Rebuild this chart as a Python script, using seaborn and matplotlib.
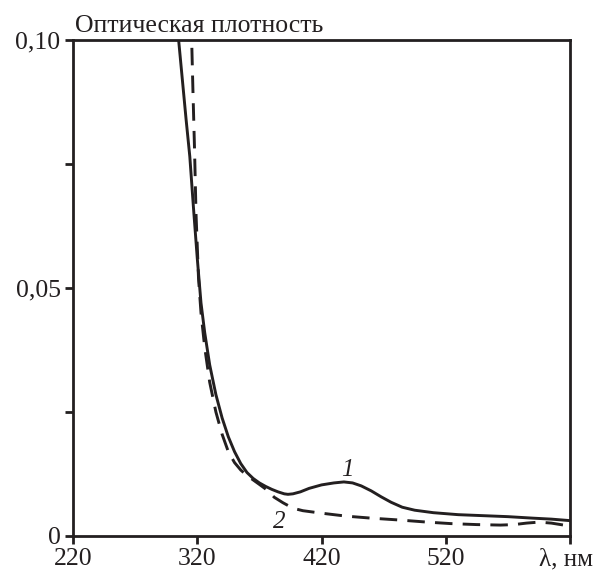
import matplotlib
matplotlib.use("Agg")
import matplotlib.pyplot as plt
from matplotlib.transforms import ScaledTranslation
import seaborn as sns
import pandas as pd

# ---- data ----
wl_1 = [303.5, 305, 308, 311, 314, 317, 320, 323, 326, 330, 335, 340, 345, 350, 355,
        360, 365, 370, 375, 380, 385, 390, 393, 397, 403, 410, 420, 430, 438, 445,
        452, 460, 468, 476, 485, 495, 510, 530, 550, 570, 590, 605, 620]
od_1 = [0.104, 0.100, 0.092, 0.084, 0.0765, 0.066, 0.056, 0.047, 0.041, 0.0345, 0.0285,
        0.0238, 0.0200, 0.0170, 0.0146, 0.0128, 0.0116, 0.0107, 0.0100, 0.0094, 0.0089,
        0.0085, 0.0084, 0.0085, 0.0089, 0.0096, 0.0103, 0.0107, 0.0109, 0.0107,
        0.0101, 0.0091, 0.0079, 0.0068, 0.0058, 0.0052, 0.0047, 0.0043, 0.0041,
        0.0039, 0.0036, 0.0034, 0.0031]

wl_2 = [315.2, 315.5, 316.5, 317.8, 319, 321, 323, 326, 330, 335, 340, 345, 350, 355,
        360, 365, 370, 376, 382, 389, 397, 405, 420, 440, 460, 484, 505, 524, 545,
        564, 575, 585, 595, 605, 620]
od_2 = [0.104, 0.100, 0.090, 0.078, 0.065, 0.052, 0.045, 0.038, 0.031, 0.025, 0.0205,
        0.017, 0.0148, 0.0133, 0.0122, 0.0113, 0.0104, 0.0093, 0.0078, 0.0067, 0.0056,
        0.0051, 0.0046, 0.0040, 0.0036, 0.0032, 0.0028, 0.0025, 0.0023, 0.0022,
        0.0023, 0.0026, 0.0028, 0.0026, 0.0020]

x_ticks = [220, 320, 420, 520, 620]
x_tick_labels = ["220", "320", "420", "520", "λ, нм"]
y_ticks = [0, 0.025, 0.05, 0.075, 0.10]
y_tick_labels = ["0", "", "0,05", "", "0,10"]
title_text = "Оптическая плотность"
curve_labels = ["1", "2"]
curve_label_pos = [(441, 0.0121), (386, 0.0016)]

# ---- style ----
sns.set_theme(style="ticks")
plt.rcParams["font.family"] = ["Liberation Serif", "DejaVu Serif"]
ink = "#231f20"
plt.rcParams.update({
    "axes.edgecolor": ink, "xtick.color": ink, "ytick.color": ink,
    "text.color": ink, "axes.linewidth": 2.0,
    "xtick.major.width": 2.0, "ytick.major.width": 2.0,
    "xtick.major.size": 6, "ytick.major.size": 6,
})

fig = plt.figure(figsize=(5.96, 5.71), dpi=100)
ax = fig.add_axes([0.1225, 0.0613, 0.8339, 0.8687])

df1 = pd.DataFrame({"wl": wl_1, "od": od_1})
df2 = pd.DataFrame({"wl": wl_2, "od": od_2})
sns.lineplot(data=df1, x="wl", y="od", ax=ax, color=ink, lw=2.1, sort=False)
sns.lineplot(data=df2, x="wl", y="od", ax=ax, color=ink, lw=2.1, sort=False,
             linestyle=(0, (6, 3.5)))

ax.set_xlim(220, 620)
ax.set_ylim(0, 0.10)
ax.set_xticks(x_ticks)
ax.set_xticklabels(x_tick_labels)
ax.set_yticks(y_ticks)
ax.set_yticklabels(y_tick_labels)
ax.tick_params(labelsize=18.5, pad=3)
ax.set_xlabel("")
ax.set_ylabel("")
for s in ax.spines.values():
    s.set_visible(True)

last = ax.get_xticklabels()[-1]
last.set_fontsize(18)
last.set_transform(last.get_transform() + ScaledTranslation(-4 / 100, 0, fig.dpi_scale_trans))

ax.text(0.005, 1.006, title_text, transform=ax.transAxes, fontsize=18.5,
        ha="left", va="bottom")
for lab, (xx, yy) in zip(curve_labels, curve_label_pos):
    ax.text(xx, yy, lab, fontsize=18, style="italic", ha="center", va="baseline")

fig.savefig("out.png", dpi=100)
